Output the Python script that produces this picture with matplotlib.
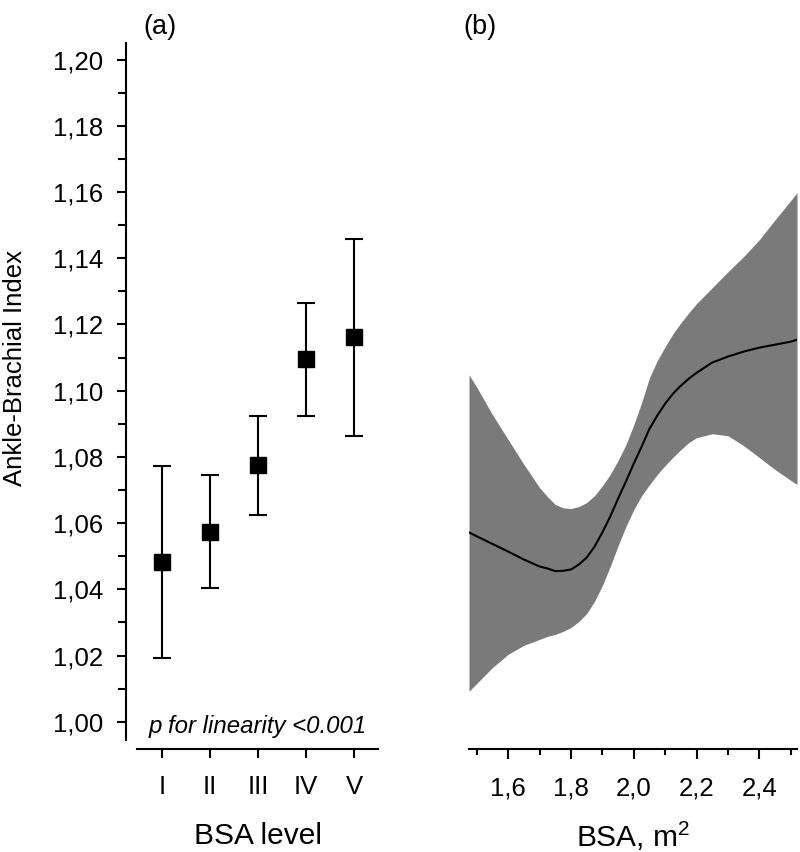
import numpy as np
import matplotlib
matplotlib.use("Agg")
import matplotlib.pyplot as plt
from matplotlib.ticker import FixedLocator, FuncFormatter

plt.rcParams['font.family'] = ['Liberation Sans', 'DejaVu Sans']
plt.rcParams['mathtext.fontset'] = 'custom'
plt.rcParams['mathtext.rm'] = 'Liberation Sans'
plt.rcParams['mathtext.it'] = 'Liberation Sans:italic'

# Panel (a): mean ABI by BSA level with 95% CI
levels = ['I', 'II', 'III', 'IV', 'V']
abi_mean = [1.0484, 1.0574, 1.0776, 1.1096, 1.1161]
abi_low = [1.0194, 1.0403, 1.0626, 1.0925, 1.0864]
abi_high = [1.0772, 1.0745, 1.0924, 1.1265, 1.1459]

# Panel (b): spline of ABI vs BSA
bsa = [1.475, 1.50, 1.55, 1.60, 1.65, 1.70, 1.725, 1.75, 1.775, 1.80, 1.825,
       1.85, 1.875, 1.90, 1.925, 1.95, 1.975, 2.00, 2.025, 2.05, 2.075, 2.10,
       2.125, 2.15, 2.175, 2.20, 2.25, 2.30, 2.35, 2.40, 2.45, 2.50, 2.52]
fit = [1.0572, 1.0560, 1.0537, 1.0514, 1.0490, 1.0469, 1.0463, 1.0455, 1.0456,
       1.0460, 1.0475, 1.0496, 1.0529, 1.0572, 1.0620, 1.0674, 1.0726, 1.0780,
       1.0831, 1.0885, 1.0925, 1.0961, 1.0991, 1.1015, 1.1036, 1.1054, 1.1085,
       1.1103, 1.1118, 1.1130, 1.1139, 1.1148, 1.1154]
ci_low = [1.0092, 1.0116, 1.0164, 1.0204, 1.0231, 1.0249, 1.0258, 1.0264, 1.0273,
          1.0285, 1.0303, 1.0327, 1.0364, 1.0412, 1.0469, 1.0532, 1.0590, 1.0641,
          1.0683, 1.0716, 1.0747, 1.0774, 1.0799, 1.0822, 1.0843, 1.0858, 1.0870,
          1.0864, 1.0834, 1.0798, 1.0762, 1.0729, 1.0717]
ci_high = [1.1048, 1.1010, 1.0927, 1.0852, 1.0777, 1.0707, 1.0680, 1.0656, 1.0646,
           1.0644, 1.0650, 1.0662, 1.0683, 1.0713, 1.0747, 1.0789, 1.0837, 1.0897,
           1.0964, 1.1039, 1.1091, 1.1133, 1.1172, 1.1205, 1.1235, 1.1263, 1.1311,
           1.1359, 1.1405, 1.1456, 1.1516, 1.1574, 1.1598]

comma = FuncFormatter(lambda v, p: f"{v:.2f}".replace('.', ','))
comma1 = FuncFormatter(lambda v, p: f"{v:.1f}".replace('.', ','))

fig = plt.figure(figsize=(8, 8.52), dpi=100)
ylim = (0.9945, 1.205)
label_y = (740 - 836) / 697

# --- panel (a) ---
ax1 = fig.add_axes([137/800, 112/852, 241/800, 697/852])
x = np.arange(1, len(levels) + 1)
yerr = [np.array(abi_mean) - np.array(abi_low), np.array(abi_high) - np.array(abi_mean)]
ax1.errorbar(x, abi_mean, yerr=yerr, fmt='s', color='black', ms=11.5,
             elinewidth=1.5, capsize=6.8, capthick=1.5)
ax1.set_xlim(0.48, 5.5)
ax1.set_ylim(*ylim)
ax1.set_xticks(x)
ax1.set_xticklabels(levels)
ax1.yaxis.set_major_locator(FixedLocator(np.arange(1.00, 1.201, 0.02)))
ax1.yaxis.set_minor_locator(FixedLocator(np.arange(1.01, 1.20, 0.02)))
ax1.yaxis.set_major_formatter(comma)
for s in ['top', 'right']:
    ax1.spines[s].set_visible(False)
ax1.spines['left'].set_position(('outward', 8))
ax1.spines['bottom'].set_position(('outward', 6.5))
ax1.spines['left'].set_linewidth(1.5)
ax1.spines['bottom'].set_linewidth(1.5)
ax1.tick_params(axis='y', which='major', length=6.5, width=1.5, labelsize=18.5, pad=10)
ax1.tick_params(axis='y', which='minor', length=5.5, width=1.5)
ax1.tick_params(axis='x', length=6.5, width=1.5, labelsize=18.5, pad=12)
ax1.set_ylabel('Ankle-Brachial Index', fontsize=18.5)
ax1.yaxis.set_label_coords((27 - 137) / 241, (740 - 368) / 697)
ax1.set_xlabel('BSA level', fontsize=21.5, va='center')
ax1.xaxis.set_label_coords(0.5, label_y)
ax1.text(0.5, 0.003, 'p for linearity <0.001', transform=ax1.transAxes,
         ha='center', va='bottom', fontsize=17.3, style='italic')
fig.text(160/800, 1 - 27/852, '(a)', ha='center', va='center', fontsize=19.5)

# --- panel (b) ---
ax2 = fig.add_axes([469/800, 112/852, 328/800, 697/852])
ax2.fill_between(bsa, ci_low, ci_high, color='#7a7a7a', lw=0)
ax2.plot(bsa, fit, color='black', lw=1.5)
ax2.set_xlim(1.475, 2.52)
ax2.set_ylim(*ylim)
ax2.xaxis.set_major_locator(FixedLocator([1.6, 1.8, 2.0, 2.2, 2.4]))
ax2.xaxis.set_minor_locator(FixedLocator([1.5, 1.7, 1.9, 2.1, 2.3, 2.5]))
ax2.xaxis.set_major_formatter(comma1)
for s in ['top', 'right', 'left']:
    ax2.spines[s].set_visible(False)
ax2.set_yticks([])
ax2.spines['bottom'].set_position(('outward', 6.5))
ax2.spines['bottom'].set_linewidth(1.5)
ax2.tick_params(axis='x', which='major', length=7, width=1.5, labelsize=18.5, pad=13)
ax2.tick_params(axis='x', which='minor', length=4.5, width=1.5)
ax2.set_xlabel('BSA, m$^2$', fontsize=21.5, va='center')
ax2.xaxis.set_label_coords(0.5, label_y)
fig.text(480/800, 1 - 27/852, '(b)', ha='center', va='center', fontsize=19.5)

fig.savefig('out.png', dpi=100)
